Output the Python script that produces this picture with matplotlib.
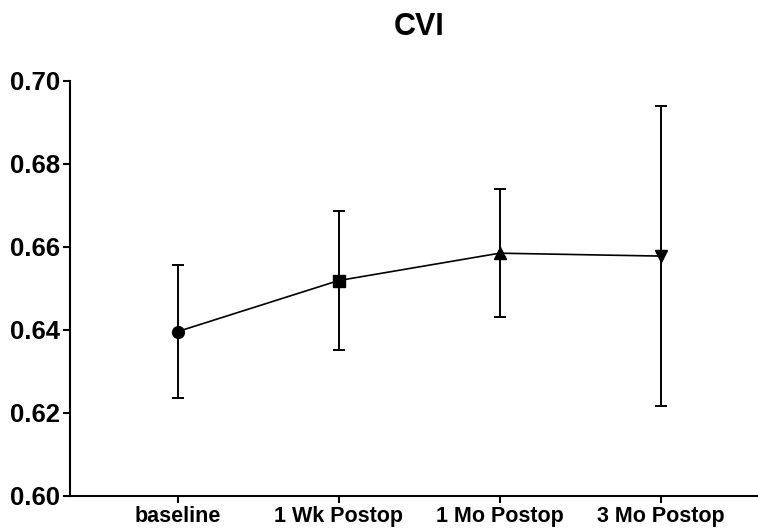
import matplotlib
matplotlib.use('Agg')
import matplotlib.pyplot as plt
import numpy as np

TIMEPOINTS = ['baseline', '1 Wk Postop', '1 Mo Postop', '3 Mo Postop']
CVI_MEAN = [0.6396, 0.6519, 0.6585, 0.6578]
CVI_SD = [0.0161, 0.0168, 0.0154, 0.0362]
MARKERS = ['o', 's', '^', 'v']
YTICKS = [0.60, 0.62, 0.64, 0.66, 0.68, 0.70]

plt.rcParams['font.family'] = ['Liberation Sans', 'DejaVu Sans']
plt.rcParams['font.weight'] = 'bold'

fig = plt.figure(figsize=(7.58, 5.29), dpi=100)
ax = fig.add_axes([0.0923, 0.0624, 0.9077, 0.7846])

x = np.arange(len(TIMEPOINTS))
ax.plot(x, CVI_MEAN, color='black', lw=1.2, zorder=2)
ax.errorbar(x, CVI_MEAN, yerr=CVI_SD, fmt='none', ecolor='black',
            elinewidth=1.4, capsize=4.5, capthick=1.4, zorder=2)
for xi, yi, m in zip(x, CVI_MEAN, MARKERS):
    ms = 8.5 if m == 'o' else 8
    ax.plot(xi, yi, marker=m, color='black', ms=ms, zorder=3)

ax.set_xlim(-0.668, 3.605)
ax.set_ylim(0.60, 0.70)
ax.set_yticks(YTICKS)
ax.set_yticklabels([f'{v:.2f}' for v in YTICKS], fontsize=18.5, fontweight='bold')
ax.set_xticks(x)
ax.set_xticklabels(TIMEPOINTS, fontsize=15.5, fontweight='bold')

for side in ['top', 'right']:
    ax.spines[side].set_visible(False)
for side in ['left', 'bottom']:
    ax.spines[side].set_linewidth(1.5)
ax.tick_params(direction='out', length=5, width=1.5, pad=2)

# title sits a little right of the axes centre in the original
fig.text(0.553, 0.934, 'CVI', fontsize=22, fontweight='bold',
         ha='center', va='baseline')

fig.savefig('out.png', dpi=100)
